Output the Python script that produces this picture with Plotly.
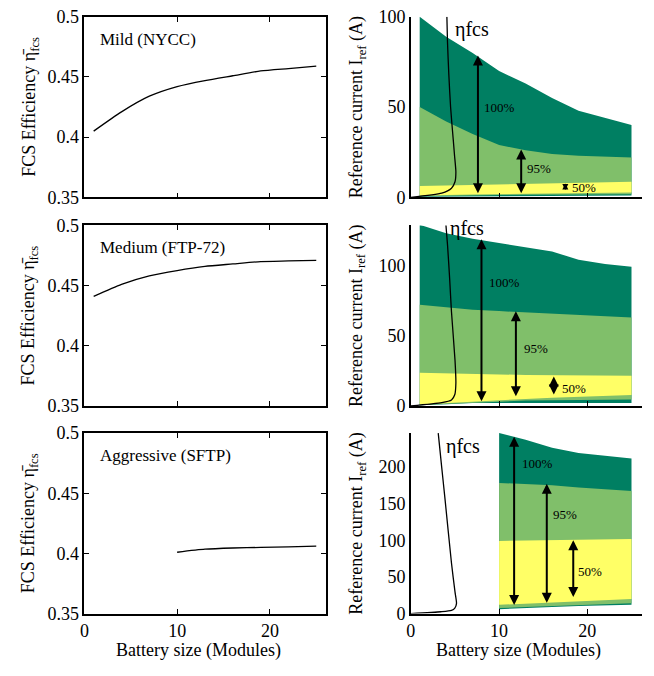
import plotly.graph_objects as go

# ---------------- data ----------------
sizes = [1, 4, 7, 10, 13, 16, 19, 22, 25]
sizes_sftp = [10, 13, 16, 19, 22, 25]

eff_mild = [0.405, 0.421, 0.434, 0.442, 0.447, 0.451, 0.455, 0.457, 0.459]
eff_medium = [0.441, 0.451, 0.458, 0.4625, 0.466, 0.468, 0.470, 0.4705, 0.471]
eff_aggr = [0.401, 0.4035, 0.4045, 0.405, 0.4055, 0.406]

mild_hi100 = [100, 89, 80, 70, 63, 55, 48, 44, 40]
mild_hi95 = [50, 42, 35, 29, 26, 24, 23, 22.5, 22]
mild_hi50 = [6.3, 6.6, 6.9, 7.2, 7.5, 7.8, 8.1, 8.4, 8.6]
mild_lo50 = [1.0, 1.3, 1.6, 1.9, 2.1, 2.3, 2.4, 2.5, 2.6]
mild_lo95 = [0.6, 0.8, 1.0, 1.2, 1.4, 1.5, 1.6, 1.7, 1.7]
mild_lo100 = [0.3, 0.4, 0.5, 0.6, 0.7, 0.8, 0.9, 0.9, 1.0]

med_hi100 = [129, 123, 119, 116, 113, 110, 104, 101, 99]
med_hi95 = [72, 70, 68.5, 67.5, 66.5, 65.5, 64.5, 64, 63]
med_hi50 = [23.7, 23.1, 22.7, 22.4, 22.1, 21.9, 21.7, 21.5, 21.4]
med_lo50 = [1, 2, 3, 4, 5, 5.8, 6.5, 7.2, 7.7]
med_lo95 = [0.7, 1.5, 2.2, 3, 3.8, 4.2, 4.4, 4.5, 4.6]
med_lo100 = [0.5, 1.2, 2, 2.5, 2.5, 2.2, 2, 2, 2]

agg_hi100 = [246, 237, 226, 219, 215, 211.5]
agg_hi95 = [178, 177, 175, 172, 169, 167]
agg_hi50 = [99, 99.5, 100, 100.5, 101, 101.5]
agg_lo50 = [12, 13.5, 15, 16.5, 18.5, 20]
agg_lo95 = [7.5, 9, 10.5, 12, 13, 14]
agg_lo100 = [6, 7.5, 9, 10.5, 11.5, 12]

eta_x_mild = [0, 3.5, 4.6, 5.0, 5.1, 4.95, 4.8, 4.5, 4.3, 4.15, 4.08]
eta_y_mild = [0, 2.3, 5, 8.6, 14, 23, 32, 50, 68, 86, 100]
eta_x_med = [0, 3.5, 4.6, 4.98, 5.1, 5.0, 4.6, 4.4, 4.16, 3.97]
eta_y_med = [0, 2.3, 4.2, 8.1, 16.3, 32.6, 67, 90, 114, 129]
eta_x_agg = [0, 3.4, 4.6, 4.98, 5.17, 5.0, 4.6, 3.86, 3.48, 3.1]
eta_y_agg = [0, 2.5, 4.4, 7.5, 14, 29.5, 69, 157, 201, 246]

cycle_names = ["Mild (NYCC)", "Medium (FTP-72)", "Aggressive (SFTP)"]
pct_labels = ["100%", "95%", "50%"]

# arrows: (x, bottom, top) for 100%, 95%, 50%
arrows_mild = [(7.6, 1.4, 78.5), (12.5, 1.4, 26.5), (17.5, 3.2, 7.7)]
arrows_med = [(8.0, 2.3, 118.6), (11.9, 5.8, 67.4), (16.2, 7.0, 21.0)]
arrows_agg = [(11.7, 9.7, 241), (15.4, 12.8, 177), (18.4, 20.7, 100)]
label_pos_mild = [(8.1, 50), (12.9, 15.8), (18.0, 5.4)]
label_pos_med = [(8.6, 88), (12.6, 40.7), (16.9, 12.3)]
label_pos_agg = [(12.4, 204), (15.9, 135), (18.7, 56.8)]
eta_label_pos = [(4.8, 93), (4.2, 126), (3.7, 228)]

DARK = "#007F62"
LIGHT = "#80BF6A"
YELLOW = "#FFFF66"
FONT = "Liberation Serif, Times New Roman, serif"

W, H = 654, 676
left_dom = [80 / W, 323 / W]
right_dom = [409 / W, 642 / W]
rows_px = [(7, 193), (222, 408), (436, 622)]
row_dom = [[1 - b / H, 1 - t / H] for t, b in rows_px]
right_yrange = [[0, 100], [0, 128.5], [0, 246]]

fig = go.Figure()

effs = [(sizes, eff_mild), (sizes, eff_medium), (sizes_sftp, eff_aggr)]
bands = [
    (sizes, [(mild_lo100, mild_hi100, DARK), (mild_lo95, mild_hi95, LIGHT), (mild_lo50, mild_hi50, YELLOW)]),
    (sizes, [(med_lo100, med_hi100, DARK), (med_lo95, med_hi95, LIGHT), (med_lo50, med_hi50, YELLOW)]),
    (sizes_sftp, [(agg_lo100, agg_hi100, DARK), (agg_lo95, agg_hi95, LIGHT), (agg_lo50, agg_hi50, YELLOW)]),
]
etas = [(eta_x_mild, eta_y_mild), (eta_x_med, eta_y_med), (eta_x_agg, eta_y_agg)]
arrows = [arrows_mild, arrows_med, arrows_agg]
lbls = [label_pos_mild, label_pos_med, label_pos_agg]

annotations = []
for r in range(3):
    li = 2 * r + 1
    ri = 2 * r + 2
    lx, ly = ("x" if li == 1 else f"x{li}"), ("y" if li == 1 else f"y{li}")
    rx, ry = f"x{ri}", f"y{ri}"
    xs, ys = effs[r]
    fig.add_trace(go.Scatter(x=xs, y=ys, mode="lines", line=dict(color="black", width=1.3, shape="spline", smoothing=0.6),
                             xaxis=lx, yaxis=ly, showlegend=False))
    bx, blist = bands[r]
    for lo, hi, col in blist:
        fig.add_trace(go.Scatter(x=list(bx) + list(bx)[::-1], y=list(hi) + list(lo)[::-1],
                                 fill="toself", fillcolor=col, mode="lines", line=dict(width=0),
                                 xaxis=rx, yaxis=ry, showlegend=False))
    ex, ey = etas[r]
    fig.add_trace(go.Scatter(x=ex, y=ey, mode="lines", line=dict(color="black", width=1.3, shape="spline", smoothing=0.6),
                             xaxis=rx, yaxis=ry, showlegend=False))

    # axes
    common = dict(showline=True, linecolor="black", linewidth=1.5, ticks="inside", ticklen=5,
                  tickcolor="black", showgrid=False, zeroline=False,
                  tickfont=dict(family=FONT, size=18, color="black"))
    fig.layout[f"xaxis{'' if li == 1 else li}"] = dict(
        domain=left_dom, anchor=ly, range=[0, 26], tickvals=[0, 10, 20], mirror="ticks",
        showticklabels=(r == 2), **common)
    fig.layout[f"yaxis{'' if li == 1 else li}"] = dict(
        domain=row_dom[r], anchor=lx, range=[0.35, 0.5], tickvals=[0.35, 0.4, 0.45, 0.5],
        ticktext=["0.35", "0.4", "0.45", "0.5"], mirror="ticks", **common)
    fig.layout[f"xaxis{ri}"] = dict(domain=right_dom, anchor=ry, range=[0, 26.2], tickvals=[0, 10, 20],
                                    showticklabels=(r == 2), **common)
    cr2 = dict(common)
    cr2["ticks"] = ""
    fig.layout[f"yaxis{ri}"] = dict(domain=row_dom[r], anchor=rx, range=right_yrange[r],
                                    dtick=50, **cr2)

    # cycle label
    annotations.append(dict(x=1.5, y=0.4815, xref=lx, yref=ly, text=cycle_names[r], showarrow=False,
                            xanchor="left", yanchor="middle",
                            font=dict(family=FONT, size=17, color="black")))
    # double-headed arrows and their labels
    for (ax_, lo_, hi_), (tx, ty), lab in zip(arrows[r], lbls[r], pct_labels):
        short = (hi_ - lo_) / right_yrange[r][1] < 0.1
        sz = 0.75 if short else 1.0
        aw = 1.6 if short else 2
        annotations.append(dict(x=ax_, y=hi_, ax=ax_, ay=lo_, xref=rx, yref=ry, axref=rx, ayref=ry,
                                text="", showarrow=True, arrowhead=2, startarrowhead=2, arrowside="end+start",
                                arrowsize=sz, startarrowsize=sz, arrowwidth=aw, arrowcolor="black",
                                standoff=0, startstandoff=0))
        annotations.append(dict(x=tx, y=ty, xref=rx, yref=ry, text=lab, showarrow=False,
                                xanchor="left", yanchor="middle",
                                font=dict(family=FONT, size=13, color="black")))
    ex_, ey_ = eta_label_pos[r]
    annotations.append(dict(x=ex_, y=ey_, xref=rx, yref=ry, text="ηfcs", showarrow=False,
                            xanchor="left", yanchor="middle",
                            font=dict(family=FONT, size=20, color="black")))
    # y titles
    cy = 1 - ((rows_px[r][0] + rows_px[r][1]) / 2) / H
    annotations.append(dict(x=25 / W, y=cy, xref="paper", yref="paper", textangle=-90,
                            text="FCS Efficiency η\u0304<sub>fcs</sub>", showarrow=False,
                            xanchor="center", yanchor="middle",
                            font=dict(family=FONT, size=18, color="black")))
    annotations.append(dict(x=355 / W, y=cy, xref="paper", yref="paper", textangle=-90,
                            text="Reference current I<sub>ref</sub> (A)", showarrow=False,
                            xanchor="center", yanchor="middle",
                            font=dict(family=FONT, size=18, color="black")))

for cx in (195 / W, 517 / W):
    annotations.append(dict(x=cx, y=1 - 660 / H, xref="paper", yref="paper", text="Battery size (Modules)",
                            showarrow=False, xanchor="center", yanchor="middle",
                            font=dict(family=FONT, size=18, color="black")))

fig.update_layout(width=W, height=H, margin=dict(l=0, r=0, t=0, b=0),
                  paper_bgcolor="white", plot_bgcolor="white", annotations=annotations,
                  font=dict(family=FONT, color="black"))

fig.write_html("out.html")
